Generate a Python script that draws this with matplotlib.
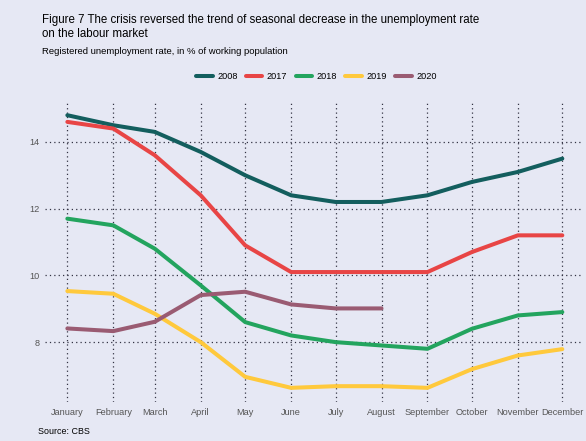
import matplotlib
matplotlib.use("Agg")
import matplotlib.pyplot as plt
import pandas as pd

plt.rcParams['font.family'] = ['Liberation Sans', 'DejaVu Sans']

months = ['January', 'February', 'March', 'April', 'May', 'June', 'July',
          'August', 'September', 'October', 'November', 'December']
dates = pd.date_range('2019-01-01', periods=12, freq='MS')

y2008 = [14.8, 14.5, 14.3, 13.7, 13.0, 12.4, 12.2, 12.2, 12.4, 12.8, 13.1, 13.5]
y2017 = [14.6, 14.4, 13.6, 12.4, 10.9, 10.1, 10.1, 10.1, 10.1, 10.7, 11.2, 11.2]
y2018 = [11.7, 11.5, 10.8, 9.7, 8.6, 8.2, 8.0, 7.9, 7.8, 8.4, 8.8, 8.9]
y2019 = [9.53, 9.45, 8.85, 8.0, 6.96, 6.63, 6.68, 6.68, 6.63, 7.19, 7.6, 7.79]
y2020 = [8.41, 8.33, 8.61, 9.41, 9.51, 9.13, 9.01, 9.01]

series = [('2008', y2008, '#135e5e'), ('2017', y2017, '#e84545'),
          ('2018', y2018, '#23a45e'), ('2019', y2019, '#ffc93c'),
          ('2020', y2020, '#9a5b72')]

bg = '#e6e8f4'
fig = plt.figure(figsize=(5.86, 4.41), dpi=100, facecolor=bg)
ax = fig.add_axes([0.077, 0.088, 0.918, 0.681], facecolor=bg)

for name, vals, col in series:
    ax.plot(dates[:len(vals)], vals, color=col, lw=2.9, label=name,
            solid_capstyle='round')

ax.set_xlim(pd.Timestamp('2018-12-17'), pd.Timestamp('2019-12-15'))
ax.set_ylim(6.2, 15.2)
ax.set_yticks([8, 10, 12, 14])
ax.set_xticks(dates)
ax.set_xticklabels(months)
ax.tick_params(length=0, labelsize=6.6, labelcolor='#555555', pad=4)
ax.grid(True, color='#333344', linestyle=(0, (1, 2.5)), lw=0.9)
for s in ax.spines.values():
    s.set_visible(False)

fig.text(0.072, 0.968, 'Figure 7 The crisis reversed the trend of seasonal decrease in the unemployment rate\non the labour market',
         fontsize=8.3, va='top', ha='left', linespacing=1.2)
fig.text(0.072, 0.893, 'Registered unemployment rate, in % of working population',
         fontsize=6.8, va='top', ha='left')
fig.text(0.065, 0.012, 'Source: CBS', fontsize=6.4, ha='left', va='bottom')

fig.legend(loc='center', bbox_to_anchor=(0.54, 0.826), ncol=5, frameon=False,
           fontsize=6.6, handlelength=1.8, columnspacing=0.9, handletextpad=0.5)

fig.savefig('out.png', dpi=100, facecolor=bg)
